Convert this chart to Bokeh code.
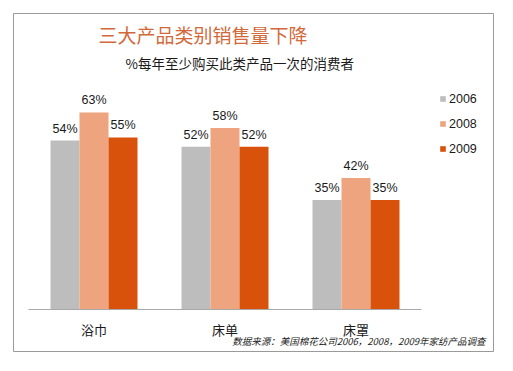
from bokeh.plotting import figure
from bokeh.models import (ColumnDataSource, Range1d, LabelSet, Label, Legend, LegendItem,
                          FixedTicker)
from bokeh.transform import dodge
from bokeh.core.properties import value
from bokeh.embed import file_html
from bokeh.resources import INLINE

categories = ["浴巾", "床单", "床罩"]
years = ["2006", "2008", "2009"]
v2006 = [54, 52, 35]
v2008 = [63, 58, 42]
v2009 = [55, 52, 35]
title_text = "三大产品类别销售量下降"
subtitle_text = "%每年至少购买此类产品一次的消费者"
source_text = "数据来源：美国棉花公司2006，2008，2009年家纺产品调查"

colors = ["#BDBDBD", "#EDA47F", "#D9520C"]
series = {"2006": v2006, "2008": v2008, "2009": v2009}

xs = list(range(len(categories)))
data = dict(x=xs, cat=categories)
for yr, vals in series.items():
    data["y" + yr] = vals
    data["l" + yr] = [f"{v}%" for v in vals]
src = ColumnDataSource(data)

CJK = "Noto Sans CJK SC"
LAT = "Liberation Sans"

# layout constants (pixels)
FW, FH = 480, 338          # frame = bordered box
CAT_PX = 131               # width of one category
LEFT_PAD_PX = 80.5         # frame left to first category centre
PX_PER_UNIT = 219 / 70     # vertical scale
BASE_PX = 42               # baseline height above frame bottom

x0 = -LEFT_PAD_PX / CAT_PX
y0 = -BASE_PX / PX_PER_UNIT
p = figure(x_range=Range1d(x0, x0 + FW / CAT_PX), y_range=Range1d(y0, y0 + FH / PX_PER_UNIT),
           width=497, height=355, output_backend="svg", toolbar_location=None,
           min_border_left=13, min_border_right=4, min_border_top=13, min_border_bottom=4)

w = 29 / CAT_PX
offsets = [-w, 0, w]
items = []
for yr, off, c in zip(years, offsets, colors):
    r = p.vbar(x=dodge("x", off), top="y" + yr, bottom=0, width=w, source=src,
               fill_color=c, line_color=None)
    items.append(LegendItem(label=yr, renderers=[r]))
    p.add_layout(LabelSet(x=dodge("x", off), y="y" + yr, text="l" + yr,
                          source=src, text_align="center", text_baseline="alphabetic",
                          y_offset=8, text_font=value(LAT), text_font_size="12.5px",
                          text_color="#1a1a1a"))

# baseline spanning the three categories
p.segment(x0=xs[0] - 0.5, x1=xs[-1] + 0.5, y0=0, y1=0, line_color="#A8A8A8", line_width=1)

p.xaxis.fixed_location = 0
p.xaxis.bounds = (xs[0] - 0.5, xs[-1] + 0.5)
p.xaxis.ticker = FixedTicker(ticks=xs)
p.xaxis.major_label_overrides = {i: c for i, c in zip(xs, categories)}
p.xaxis.axis_line_color = None
p.xaxis.major_tick_line_color = None
p.xaxis.minor_tick_line_color = None
p.xaxis.major_label_standoff = 4
p.xaxis.major_label_text_font_size = "13px"
p.xaxis.major_label_text_font = CJK
p.xaxis.major_label_text_color = "#1a1a1a"
p.yaxis.visible = False
p.grid.visible = False
p.outline_line_color = "#9A9A9A"
p.outline_line_width = 1

leg = Legend(items=items, location=(426, 194), glyph_width=7, glyph_height=7,
             label_standoff=3, padding=0, margin=0, spacing=8, label_height=17,
             border_line_color=None, background_fill_alpha=0,
             label_text_font=LAT, label_text_font_size="12.5px", label_text_color="#1a1a1a")
p.add_layout(leg, "center")

p.add_layout(Label(x=85, y=317, x_units="screen", y_units="screen", text=title_text,
                   text_font=CJK, text_font_size="19px", text_color="#D2693A",
                   text_baseline="middle", text_align="left"))
p.add_layout(Label(x=112, y=289, x_units="screen", y_units="screen", text=subtitle_text,
                   text_font=CJK, text_font_size="13.5px", text_color="#1a1a1a",
                   text_baseline="middle", text_align="left"))
p.add_layout(Label(x=472, y=11, x_units="screen", y_units="screen", text=source_text,
                   text_font=CJK, text_font_size="9.5px", text_color="#1a1a1a",
                   text_font_style="italic", text_baseline="middle", text_align="right"))

open("out.html", "w").write(file_html(p, INLINE))
